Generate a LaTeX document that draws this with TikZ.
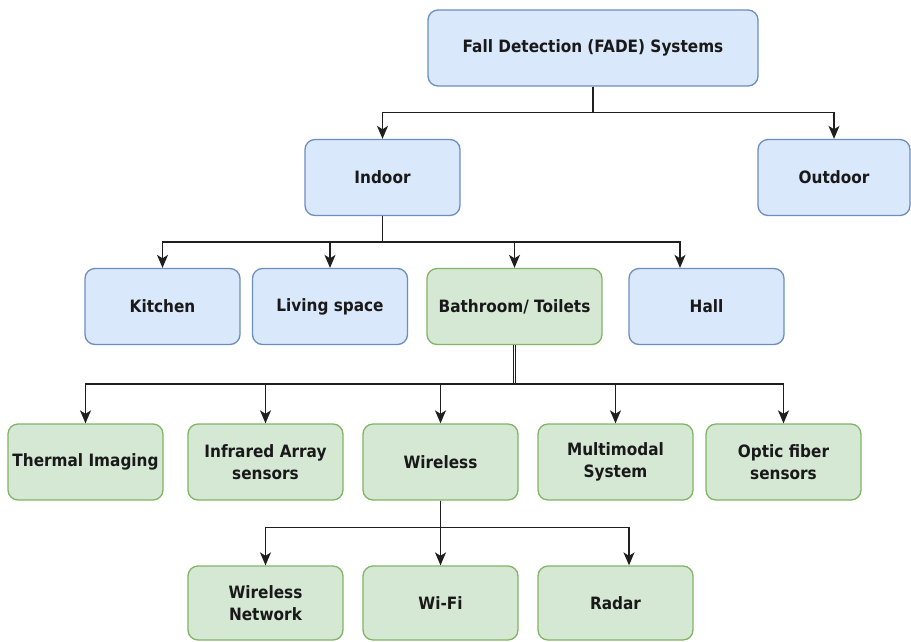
\documentclass[tikz,border=0pt]{standalone}
\usepackage{fontspec}
\setmainfont{DejaVu Sans}[FakeStretch=0.9]
\usetikzlibrary{arrows.meta}

\definecolor{blueFill}{HTML}{DAE8FC}
\definecolor{blueLine}{HTML}{6C8EBF}
\definecolor{greenFill}{HTML}{D5E8D4}
\definecolor{greenLine}{HTML}{82B366}

\tikzset{
  cat/.style={draw, rounded corners=10pt, line width=1.3pt, minimum width=155pt,
    minimum height=76pt, inner sep=0pt, align=center,
    font=\fontsize{17}{22}\selectfont\bfseries, text=black!90},
  bluecat/.style={cat, fill=blueFill, draw=blueLine},
  greencat/.style={cat, fill=greenFill, draw=greenLine},
}

\begin{document}
\begin{tikzpicture}[x=1pt, y=-1pt, >={Stealth[length=13pt,width=11pt,inset=3.5pt]},
    link/.style={->, line width=1.5pt, black!88},
    trunk/.style={line width=1pt, black!88, double, double distance=1.8pt}]
    \useasboundingbox (0,0) rectangle (911,641);

    \node[bluecat, minimum width=330pt] (fade) at (593,48) {Fall Detection (FADE) Systems};
    \node[bluecat] (indoor) at (382.5,177.5) {Indoor};
    \node[bluecat, minimum width=152pt] (outdoor) at (834,177.5) {Outdoor};

    \node[bluecat] (kitchen) at (162.5,306.5) {Kitchen};
    \node[bluecat] (living) at (330,306.5) {Living space};
    \node[greencat, minimum width=175pt] (bath) at (514.5,306.5) {Bathroom/ Toilets};
    \node[bluecat] (hall) at (706.5,306.5) {Hall};

    \node[greencat] (thermal) at (85.5,462) {Thermal Imaging};
    \node[greencat] (infrared) at (265.5,462) {Infrared Array\\sensors};
    \node[greencat] (wireless) at (440.5,462) {Wireless};
    \node[greencat] (multimodal) at (615.5,462) {Multimodal\\System};
    \node[greencat] (optic) at (783.5,462) {Optic fiber\\sensors};

    \node[greencat, minimum height=74pt] (wnet) at (265.5,603) {Wireless\\Network};
    \node[greencat, minimum height=74pt] (wifi) at (440.5,603) {Wi-Fi};
    \node[greencat, minimum height=74pt] (radar) at (615.5,603) {Radar};

    \draw[link] (fade.south) -- ++(0,26) -| (indoor.north);
    \draw[link] (fade.south) -- ++(0,26) -| (outdoor.north);

    \draw[link] (indoor.south) -- ++(0,26) -| (kitchen.north);
    \draw[link] (indoor.south) -- ++(0,26) -| (living.north);
    \draw[link] (indoor.south) -- ++(0,26) -| (bath.north);
    \draw[link] (indoor.south) -- ++(0,26) -| ([xshift=-26.5pt]hall.north);

    \draw[trunk] (bath.south) -- ++(0,39) coordinate (bathbus);
    \draw[link] (bathbus) -| (thermal.north);
    \draw[link] (bathbus) -| (infrared.north);
    \draw[link] (bathbus) -| (wireless.north);
    \draw[link] (bathbus) -| (multimodal.north);
    \draw[link] (bathbus) -| (optic.north);

    \draw[link] (wireless.south) -- ++(0,27) -| (wnet.north);
    \draw[link] (wireless.south) -- ++(0,27) -| (wifi.north);
    \draw[link] (wireless.south) -- ++(0,27) -| ([xshift=13.5pt]radar.north);
\end{tikzpicture}
\end{document}
